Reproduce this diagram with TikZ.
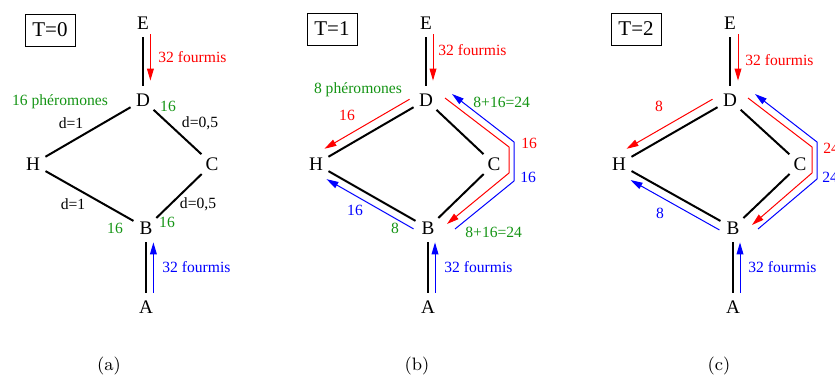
\documentclass[tikz,border=0pt]{standalone}
\usepackage{fontspec}
\setmainfont{Liberation Serif}
\usetikzlibrary{arrows.meta}
\definecolor{antred}{RGB}{255,0,0}
\definecolor{antblue}{RGB}{0,0,255}
\definecolor{antgreen}{RGB}{20,148,20}
\tikzset{
  antNode/.style={circle, inner sep=0pt, minimum size=14pt,
                  font=\fontsize{9.6}{11}\selectfont},
  antEdge/.style={line width=1pt, draw=black},
  antTime/.style={draw, line width=0.5pt, inner sep=0pt, minimum width=25pt,
                  minimum height=16pt, font=\fontsize{10.5}{12}\selectfont},
  antFwd/.style={-{Triangle[length=6pt,width=3.4pt]}, line width=0.5pt, draw=antred},
  antBack/.style={-{Triangle[length=6pt,width=3.4pt]}, line width=0.5pt, draw=antblue},
  antText/.style={inner sep=0pt, font=\fontsize{7.8}{9}\selectfont, text=#1},
  antCap/.style={inner sep=0pt, font=\fontfamily{lmr}\fontsize{9}{11}\selectfont}
}
\begin{document}
\begin{tikzpicture}[x=0.5pt, y=-0.5pt]
  \useasboundingbox (0,0) rectangle (835,376);

  \begin{scope}[name prefix=a-]
    \node[antTime] (time) at (50,30) {T=0};
    \node[antNode] (E) at (143,23) {E};
    \node[antNode] (D) at (143,100) {D};
    \node[antNode] (H) at (33,164) {H};
    \node[antNode] (C) at (212,164) {C};
    \node[antNode] (B) at (146,228) {B};
    \node[antNode] (A) at (146,307) {A};
    \draw[antEdge] (E) -- (D);
    \draw[antEdge] (D) -- (H);
    \draw[antEdge] (D) -- (C);
    \draw[antEdge] (H) -- (B);
    \draw[antEdge] (C) -- (B);
    \draw[antEdge] (B) -- (A);
    \draw[antFwd] ([xshift=3.7pt,yshift=1.5pt]E.south) -- ([xshift=3.7pt,yshift=2.5pt]D.north);
    \draw[antBack] ([xshift=3.7pt]A.north) -- ([xshift=3.7pt]B.south);
    \node[antText=antred, anchor=west] (antsE) at (158,57) {32 fourmis};
    \node[antText=antblue, anchor=west] (antsA) at (162,267) {32 fourmis};
    \node[antText=antgreen] (pheroD) at (60,102) {16 phéromones};
    \node[antText=antgreen] (pheroDC) at (168,106) {16};
    \node[antText=black] (lenDH) at (71,123) {d=1};
    \node[antText=black] (lenDC) at (200,123) {d=0,5};
    \node[antText=black] (lenHB) at (73,204) {d=1};
    \node[antText=black] (lenCB) at (198,204) {d=0,5};
    \node[antText=antgreen] (pheroBH) at (115,228) {16};
    \node[antText=antgreen] (pheroBC) at (167,222) {16};
    \node[antCap] (cap) at (109,366) {(a)};
  \end{scope}

  \begin{scope}[shift={(282,0)}, name prefix=b-]
    \node[antTime] (time) at (50,29) {T=1};
    \node[antNode] (E) at (144,23) {E};
    \node[antNode] (D) at (144,100) {D};
    \node[antNode] (H) at (34,164) {H};
    \node[antNode] (C) at (212,164) {C};
    \node[antNode] (B) at (146,228) {B};
    \node[antNode] (A) at (146,307) {A};
    \draw[antEdge] (E) -- (D);
    \draw[antEdge] (D) -- (H);
    \draw[antEdge] (D) -- (C);
    \draw[antEdge] (H) -- (B);
    \draw[antEdge] (C) -- (B);
    \draw[antEdge] (B) -- (A);
    \draw[antFwd] ([xshift=3.5pt,yshift=1.5pt]E.south) -- ([xshift=3.5pt,yshift=2.5pt]D.north);
    \draw[antBack] ([xshift=3.5pt]A.north) -- ([xshift=3.5pt]B.south);
    \draw[antFwd, transform canvas={shift={(-4,-8)}}] (D) -- (H);
    \draw[antBack, transform canvas={shift={(-2,8)}}] (B) -- (H);
    \draw[antFwd] ([shift={(19,-2)}]D.center) -- ([shift={(15,-17)}]C.center)
      -- ([shift={(15,9)}]C.center) -- ([shift={(19,-4)}]B.center);
    \draw[antBack] ([shift={(27,1)}]B.center) -- ([shift={(20,17)}]C.center)
      -- ([shift={(20,-22)}]C.center) -- ([shift={(26,-6)}]D.center);
    \node[antText=antred, anchor=west] (antsE) at (156,50) {32 fourmis};
    \node[antText=antblue, anchor=west] (antsA) at (162,267) {32 fourmis};
    \node[antText=antgreen] (pheroD) at (76,90) {8 phéromones};
    \node[antText=antred] (flowDH) at (65,115) {16};
    \node[antText=antblue] (flowBH) at (73,210) {16};
    \node[antText=antgreen] (pheroB) at (113,228) {8};
    \node[antText=antgreen, anchor=west] (pheroDC) at (191,102) {8+16=24};
    \node[antText=antgreen, anchor=west] (pheroBC) at (183,232) {8+16=24};
    \node[antText=antred, anchor=west] (flowDC) at (239,143) {16};
    \node[antText=antblue, anchor=west] (flowBC) at (238,177) {16};
    \node[antCap] (cap) at (135,366) {(b)};
  \end{scope}

  \begin{scope}[shift={(587,0)}, name prefix=c-]
    \node[antTime] (time) at (49,29) {T=2};
    \node[antNode] (E) at (143,23) {E};
    \node[antNode] (D) at (143,100) {D};
    \node[antNode] (H) at (32,164) {H};
    \node[antNode] (C) at (213,164) {C};
    \node[antNode] (B) at (146,228) {B};
    \node[antNode] (A) at (146,307) {A};
    \draw[antEdge] (E) -- (D);
    \draw[antEdge] (D) -- (H);
    \draw[antEdge] (D) -- (C);
    \draw[antEdge] (H) -- (B);
    \draw[antEdge] (C) -- (B);
    \draw[antEdge] (B) -- (A);
    \draw[antFwd] ([xshift=4pt,yshift=1.5pt]E.south) -- ([xshift=4pt,yshift=2.5pt]D.north);
    \draw[antBack] ([xshift=3.5pt]A.north) -- ([xshift=3.5pt]B.south);
    \draw[antFwd, transform canvas={shift={(-5,-8)}}] (D) -- (H);
    \draw[antBack, transform canvas={shift={(-1,9)}}] (B) -- (H);
    \draw[antFwd] ([shift={(18,-2)}]D.center) -- ([shift={(12,-17)}]C.center)
      -- ([shift={(12,9)}]C.center) -- ([shift={(19,-3)}]B.center);
    \draw[antBack] ([shift={(25,1)}]B.center) -- ([shift={(17,15)}]C.center)
      -- ([shift={(17,-22)}]C.center) -- ([shift={(25,-6)}]D.center);
    \node[antText=antred, anchor=west] (antsE) at (158,60) {32 fourmis};
    \node[antText=antblue, anchor=west] (antsA) at (161,267) {32 fourmis};
    \node[antText=antred] (flowDH) at (72,106) {8};
    \node[antText=antblue] (flowBH) at (73,213) {8};
    \node[antText=antred, anchor=west] (flowDC) at (236,148) {24};
    \node[antText=antblue, anchor=west] (flowBC) at (235,177) {24};
    \node[antCap] (cap) at (132,366) {(c)};
  \end{scope}
\end{tikzpicture}
\end{document}
